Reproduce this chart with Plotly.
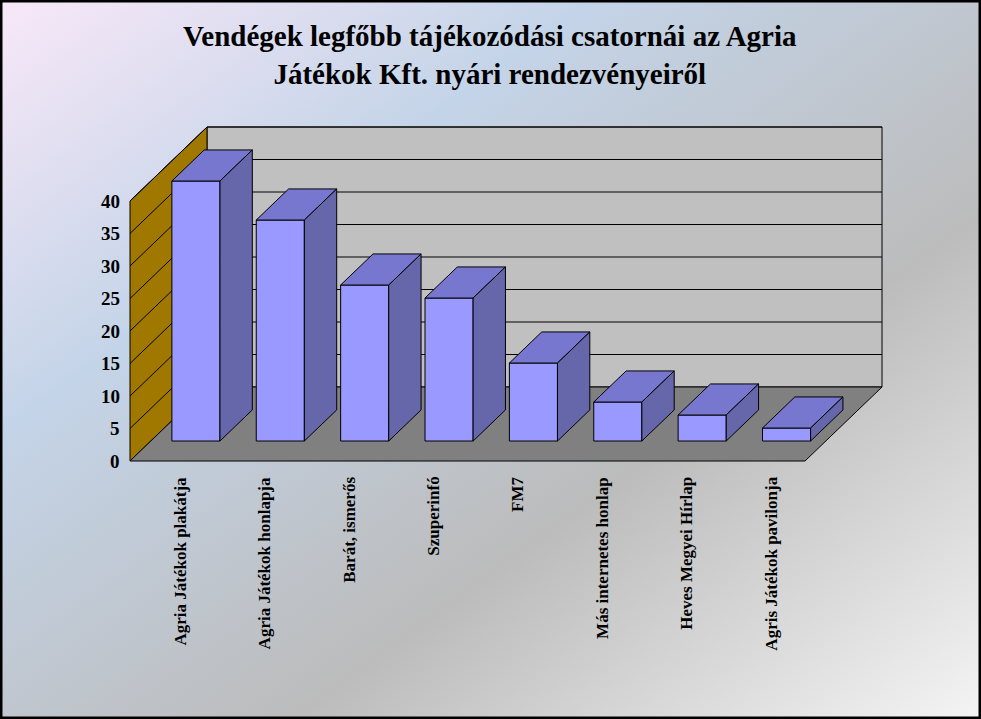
import plotly.graph_objects as go
import base64

categories = ["Agria Játékok plakátja", "Agria Játékok honlapja", "Barát, ismerős", "Szuperinfó",
              "FM7", "Más internetes honlap", "Heves Megyei Hírlap", "Agris Játékok pavilonja"]
values = [40, 34, 24, 22, 12, 6, 4, 2]
y_ticks = [0, 5, 10, 15, 20, 25, 30, 35, 40]
title = "Vendégek legfőbb tájékozódási csatornái az Agria<br>Játékok Kft. nyári rendezvényeiről"

W, H = 981, 719
PXV = 6.5            # pixels per value unit
Y0 = 461             # pixel row of value 0 at front
X0, XR = 130, 805    # front floor left/right
DX, DY = 77, 74 / PXV  # depth offset (x pixels, value units)
YMAX = 40
cw = (XR - X0) / len(categories)

fig = go.Figure()

def poly(xs, ys, fill, lw=1):
    fig.add_trace(go.Scatter(x=xs + [xs[0]], y=ys + [ys[0]], mode="lines", fill="toself",
                             fillcolor=fill, line=dict(color="black", width=lw),
                             hoverinfo="skip", showlegend=False))

def line(xs, ys):
    fig.add_trace(go.Scatter(x=xs, y=ys, mode="lines", line=dict(color="black", width=1),
                             hoverinfo="skip", showlegend=False))

# walls and floor
poly([X0 + DX, XR + DX, XR + DX, X0 + DX], [DY, DY, DY + YMAX, DY + YMAX], "#c0c0c0")
poly([X0, X0 + DX, X0 + DX, X0], [0, DY, DY + YMAX, YMAX], "#a07800")
poly([X0, XR, XR + DX, X0 + DX], [0, 0, DY, DY], "#808080")
for t in y_ticks[1:]:
    line([X0, X0 + DX, XR + DX], [t, t + DY, t + DY])

# bars
d0, d1 = 0.27, 0.69
for i, v in enumerate(values):
    bl = X0 + i * cw + 0.25 * cw
    br = X0 + i * cw + 0.82 * cw
    fx0, fx1 = bl + DX * d0, br + DX * d0
    bx0, bx1 = bl + DX * d1, br + DX * d1
    fy, by = DY * d0, DY * d1
    poly([fx0, fx1, fx1, fx0], [fy, fy, fy + v, fy + v], "#9999ff")
    poly([fx0, fx1, bx1, bx0], [fy + v, fy + v, by + v, by + v], "#7777d0")
    poly([fx1, bx1, bx1, fx1], [fy, by, by + v, fy + v], "#6666aa")

ann = []
for t in y_ticks:
    ann.append(dict(x=X0 - 8, y=t, text="<b>" + str(t) + "</b>", showarrow=False, xanchor="right",
                    yanchor="middle", font=dict(family="Liberation Serif", size=19, color="black")))
for i, c in enumerate(categories):
    ann.append(dict(x=X0 + i * cw + 50, y=-14 / PXV, text="<b>" + c + "</b>", showarrow=False,
                    textangle=-90, xanchor="center", yanchor="top",
                    font=dict(family="Liberation Serif", size=17, color="black")))
ann.append(dict(x=490, y=(Y0 - 55) / PXV, text="<b>" + title + "</b>", showarrow=False,
                xanchor="center", yanchor="middle",
                font=dict(family="Liberation Serif", size=29, color="black")))

svg = f'''<svg xmlns="http://www.w3.org/2000/svg" width="{W}" height="{H}">
<defs><linearGradient id="g" x1="0" y1="0" x2="1" y2="1">
<stop offset="0" stop-color="#f8e8f8"/><stop offset="0.3" stop-color="#c4d4e8"/>
<stop offset="0.65" stop-color="#bcbcbc"/><stop offset="1" stop-color="#f4f4f4"/></linearGradient></defs>
<rect x="1" y="1" width="{W-2}" height="{H-2}" fill="url(#g)" stroke="black" stroke-width="3"/></svg>'''
src = "data:image/svg+xml;base64," + base64.b64encode(svg.encode()).decode()

fig.update_layout(
    width=W, height=H, margin=dict(l=0, r=0, t=0, b=0),
    paper_bgcolor="white", plot_bgcolor="rgba(0,0,0,0)",
    xaxis=dict(range=[0, W], visible=False, fixedrange=True),
    yaxis=dict(range=[(Y0 - H) / PXV, Y0 / PXV], visible=False, fixedrange=True),
    annotations=ann,
    images=[dict(source=src, xref="paper", yref="paper", x=0, y=1, sizex=1, sizey=1,
                 xanchor="left", yanchor="top", sizing="stretch", layer="below")],
)
fig.write_html("out.html", config={"displayModeBar": False},
               post_script="document.body.style.margin='0';document.body.style.overflow='hidden';")
